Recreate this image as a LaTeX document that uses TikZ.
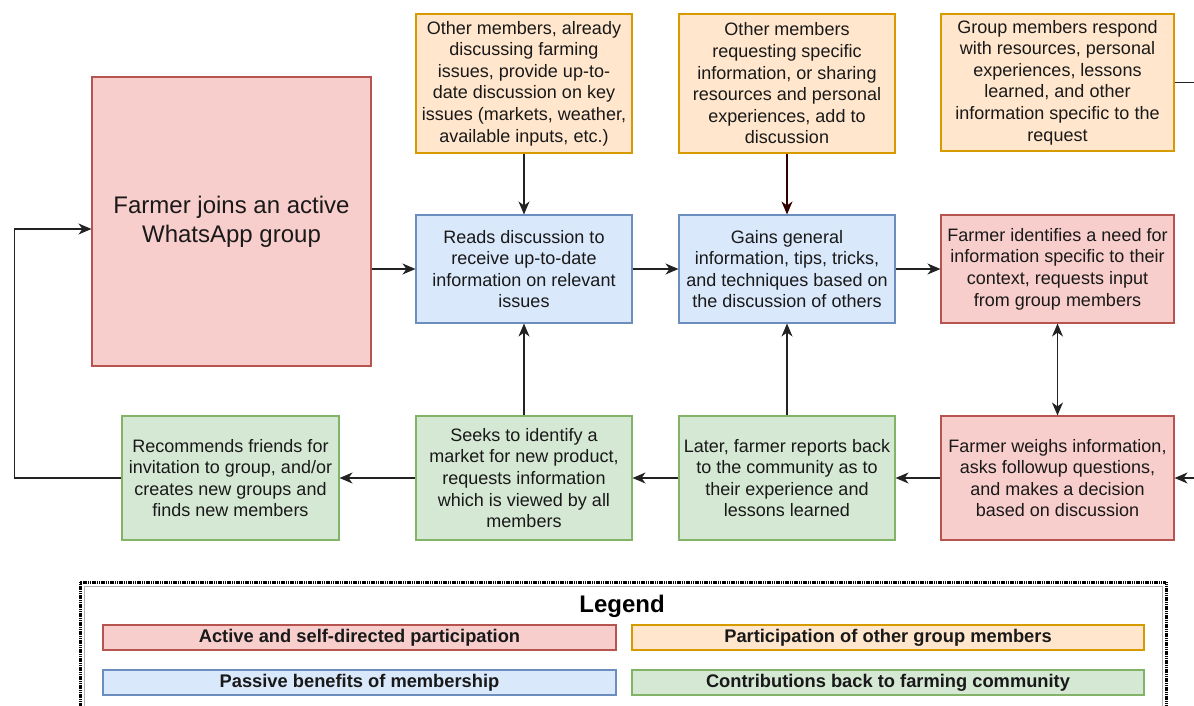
\documentclass[tikz,border=0pt]{standalone}
\usepackage{fontspec}
\setmainfont{Liberation Sans}
\usepackage{xcolor}
\usetikzlibrary{arrows.meta}

\definecolor{redfill}{HTML}{F8CECC}
\definecolor{redline}{HTML}{B85450}
\definecolor{orangefill}{HTML}{FFE6CC}
\definecolor{orangeline}{HTML}{D79B00}
\definecolor{bluefill}{HTML}{DAE8FC}
\definecolor{blueline}{HTML}{6C8EBF}
\definecolor{greenfill}{HTML}{D5E8D4}
\definecolor{greenline}{HTML}{82B366}
\definecolor{linegray}{HTML}{222222}
\definecolor{darkred}{HTML}{330000}

\tikzset{flowtip/.tip={Stealth[length=13pt,width=11pt,inset=4pt]}}

\begin{document}
\begin{tikzpicture}[x=1pt,y=-1pt]
\useasboundingbox (0,0) rectangle (1194,706);
\clip (0,0) rectangle (1194,706);
\tikzstyle{box} = [draw, rectangle, inner sep=0pt, align=center, line width=1.1pt, text=black!90, font=\fontsize{18}{21.6}\selectfont]
\tikzstyle{active} = [box, fill=redfill, draw=redline]
\tikzstyle{others} = [box, fill=orangefill, draw=orangeline]
\tikzstyle{passive} = [box, fill=bluefill, draw=blueline]
\tikzstyle{giveback} = [box, fill=greenfill, draw=greenline]
\tikzstyle{key} = [box, minimum height=25pt, font=\bfseries\fontsize{18.3}{22}\selectfont]
\tikzstyle{flow} = [line width=1.2pt, draw=linegray, -flowtip]
\tikzstyle{twoway} = [line width=1.2pt, draw=linegray, arrows={Stealth[length=13pt,width=11pt,inset=4pt]-Stealth[length=13pt,width=11pt,inset=4pt]}]

% top row
\node (o1) at (524,83.5) [others, minimum width=216pt, minimum height=139pt]
	{Other members, already\\discussing farming\\issues, provide up-to-\\date discussion on key\\issues (markets, weather,\\available inputs, etc.)};
\node (o2) at (787,83.5) [others, minimum width=216pt, minimum height=139pt]
	{Other members\\requesting specific\\information, or sharing\\resources and personal\\experiences, add to\\discussion};
\node (o3) at (1057.5,82.5) [others, minimum width=233pt, minimum height=137pt]
	{Group members respond\\with resources, personal\\experiences, lessons\\learned, and other\\information specific to the\\request};

% middle row
\node (farmer) at (231.5,221.5) [active, minimum width=279pt, minimum height=289pt, font=\fontsize{24}{29}\selectfont]
	{Farmer joins an active\\WhatsApp group};
\node (b1) at (524,269) [passive, minimum width=216pt, minimum height=108pt]
	{Reads discussion to\\receive up-to-date\\information on relevant\\issues};
\node (b2) at (787,269) [passive, minimum width=216pt, minimum height=108pt]
	{Gains general\\information, tips, tricks,\\and techniques based on\\the discussion of others};
\node (r2) at (1057.5,269) [active, minimum width=233pt, minimum height=108pt]
	{Farmer identifies a need for\\information specific to their\\context, requests input\\from group members};

% bottom row
\node (g1) at (230.5,478) [giveback, minimum width=217pt, minimum height=124pt]
	{Recommends friends for\\invitation to group, and/or\\creates new groups and\\finds new members};
\node (g2) at (524,478) [giveback, minimum width=216pt, minimum height=124pt]
	{Seeks to identify a\\market for new product,\\requests information\\which is viewed by all\\members};
\node (g3) at (787,478) [giveback, minimum width=216pt, minimum height=124pt]
	{Later, farmer reports back\\to the community as to\\their experience and\\lessons learned};
\node (r3) at (1057.5,478) [active, minimum width=233pt, minimum height=124pt]
	{Farmer weighs information,\\asks followup questions,\\and makes a decision\\based on discussion};

% connectors
\draw [flow] (b1.west -| farmer.east) -- (b1.west);
\draw [flow] (o1) -- (b1);
\draw [flow, draw=darkred] (o2) -- (b2);
\draw [flow] (b1) -- (b2);
\draw [flow] (b2) -- (r2);
\draw [twoway] (r2.south) -- (r3.north);
\draw [flow] (r3) -- (g3);
\draw [flow] (g3) -- (b2);
\draw [flow] (g3) -- (g2);
\draw [flow] (g2) -- (b1);
\draw [flow] (g2) -- (g1);
\draw [flow] (g1.west) -- ++(-107,0) |- ([yshift=-7.5pt]farmer.west);
\draw [flow] (o3.east) -- ++(40,0) |- (r3.east);

% legend
\draw [gray!60, line width=1pt] (84,586) rectangle (1162,730);
\draw [black, line width=3pt, dash pattern=on 1.2pt off 0.6pt] (80,582) rectangle (1166,730);
\node (legend) at (622,606) [font=\bfseries\fontsize{24}{29}\selectfont] {Legend};
\node (k1) at (359.5,637.5) [key, fill=redfill, draw=redline, minimum width=513pt] {Active and self-directed participation};
\node (k2) at (888,637.5) [key, fill=orangefill, draw=orangeline, minimum width=512pt] {Participation of other group members};
\node (k3) at (359.5,682.5) [key, fill=bluefill, draw=blueline, minimum width=513pt] {Passive benefits of membership};
\node (k4) at (888,682.5) [key, fill=greenfill, draw=greenline, minimum width=512pt] {Contributions back to farming community};
\end{tikzpicture}
\end{document}
